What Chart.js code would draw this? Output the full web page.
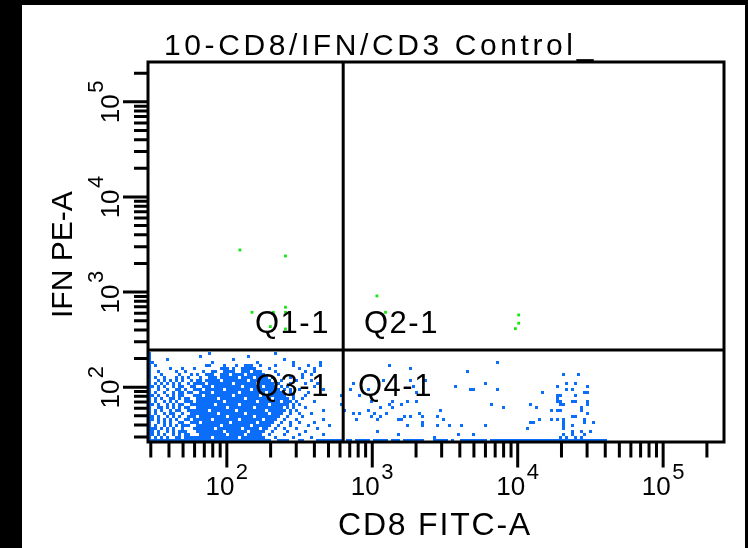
<!DOCTYPE html>
<html>
<head>
<meta charset="utf-8">
<script src="https://cdn.jsdelivr.net/npm/chart.js@4/dist/chart.umd.min.js"></script>
<style>
  body { margin: 0; background: #fff; }
  canvas { display: block; }
</style>
</head>
<body>
<canvas id="plot" width="748" height="548"></canvas>
<script>
// Axis ranges (log, FACS style 0..262144)
const X_MIN = 28.7, X_MAX = 262144;
const Y_MIN = 26.5, Y_MAX = 262144;

// Quadrant gate
const GATE_X = 631;
const GATE_Y = 246;
const QUAD_LABELS = ['Q1-1', 'Q2-1', 'Q3-1', 'Q4-1'];

// Tick values
const MAJOR_TICKS = [100, 1000, 10000, 100000];
const TICK_EXPONENTS = ['2', '3', '4', '5'];
const MINOR_TICKS = [30, 40, 50, 60, 70, 80, 90,
    200, 300, 400, 500, 600, 700, 800, 900,
    2000, 3000, 4000, 5000, 6000, 7000, 8000, 9000,
    20000, 30000, 40000, 50000, 60000, 70000, 80000, 90000,
    200000];

// Low-IFN events, binned: log10 of first bin centre and bin width per axis,
// then one entry per y-bin (top to bottom) listing the occupied x-bins
const BIN_X0 = 1.4682, BIN_XSTEP = 0.020629;
const BIN_Y0 = 2.3537, BIN_YSTEP = -0.031543;
const CD8_LOW_ROWS = [
    "0 20 42",
    "0 17 33",
    "0 6 28 45",
    "0-1 21 36 48 57 116",
    "0 2 19-20 25 29 32-34 37 42 48 53 57 80",
    "0 7 11 15 24-26 28 31-35 40 50 55 87",
    "0 3 9 12 18 21-22 25-28 31-33 35-37 42 52 55 106",
    "0 4 10 14 16 19-21 24-26 28-31 33-38 43 51 54 138 143",
    "0 2 5 9 11 13 17 20-22 24-29 31-34 36-39 41 47 51",
    "0 3 5 7 9 11 14 16-17 19-23 25-32 34-40 44 49 54 78 87 92",
    "0 2 4 6 8 10 13 15-18 20-27 29-35 37-41 43 47 52 56 68 112 139 142",
    "0-1 3 5 8 10-11 14-15 18-20 22-30 32-37 39-42 44 46 55 88 102 136 146",
    "0 3 6 9-10 12 15-17 19-24 26-33 35-43 45 47 50 58 67 73 82 107-108 116 139 141",
    "0 2 5 8 10-11 13-14 17-20 22-29 31-38 40-44 47 53 89 131 145-146",
    "0-1 3 6 8 10-11 15-17 19-27 29-36 38-45 48 52 64 70 136-137 142",
    "0 2 4 7-8 10 12-13 16-22 24-31 33-40 42-46 48 51 136",
    "0 2 5 7 9 12-14 16-24 26-35 37-43 45-47 49 55 74 81 86 89 136-137 141-142 146",
    "0-1 3 6 8 10-11 14-21 23-29 31-39 41-46 48 50 64 80 84 114 127 137-138 146",
    "0 3-4 6 8 10 12-13 16-25 27-34 36-44 46 48 52 77 81 118 129 144",
    "0 2 4 7 9-10 13-19 21-28 30-38 40-45 47 49 58 65 73 97 134 136-137 144",
    "0 2 5 7-8 11 14-22 24-31 33-39 41-44 47 50 54 68 70 75 79 90 146",
    "0-1 3 6 8 10 13-15 17-25 27-34 36-43 46 51 74 77 85 87 91 96 141-142",
    "0-1 3 5 7 9 12-13 15-20 22-29 31-37 39-42 45 49 58 69 76 83-84 98 130 134 136 138 145",
    "0 3 5 7 10-11 14-16 18-26 28-35 37-41 44 47 50 55 91 127-128 138 145 148",
    "0 2 5 7 9 11-13 16-23 25-33 35-40 43 47 53 60 86 91 96 100 104 112 138 141",
    "0-2 4 6 8 11 15-21 23-30 32-36 38-39 42 45 49 56 126 138",
    "0-1 3 6 8 10-12 16-24 26-32 34-38 41 46 52 76 141 144 147",
    "0-1 3 5 8 10 12-13 17-25 27-31 33-37 40 45 50 58 83 103 108 138 141 145",
    "0 2 4 6 9-10 12-20 22-29 31-38 42 48 54 95 137 139 142 144",
    "0-40 43-46 50-51 56-64 66-67 69-73 75-79 81-83 85-91 95-99 101 104-112 114-152"
];

// IFN-high events [CD8 FITC-A, IFN PE-A]
const IFN_HIGH = [
    [123, 2767], [253, 2393], [253, 692], [149, 612], [209, 612],
    [253, 612], [199, 433], [253, 409], [1076, 910], [1234, 612],
    [10160, 574], [10160, 470], [9640, 412]
];

const FONT = "'Liberation Sans', Arial, sans-serif";

function decodeRows(rows) {
    const pts = [];
    rows.forEach((row, r) => {
        const yv = Math.pow(10, BIN_Y0 + r * BIN_YSTEP);
        row.split(' ').forEach(tok => {
            const [a, b] = tok.split('-').map(Number);
            const end = b === undefined ? a : b;
            for (let c = a; c <= end; c++) {
                pts.push({x: Math.pow(10, BIN_X0 + c * BIN_XSTEP), y: yv});
            }
        });
    });
    return pts;
}

function drawPow(ctx, ax, base, exp) {
    // "10" with superscript, anchored on the tick
    ctx.font = '26px ' + FONT;
    ctx.textAlign = 'right';
    ctx.fillText('10', ax + 7.5, base);
    ctx.font = '22px ' + FONT;
    ctx.textAlign = 'left';
    ctx.fillText(exp, ax + 9, base - 16);
}

const facsFrame = {
    id: 'facsFrame',
    beforeDraw(chart) {
        const ctx = chart.ctx;
        ctx.save();
        ctx.fillStyle = '#fff';
        ctx.fillRect(0, 0, chart.width, chart.height);
        ctx.fillStyle = '#000';
        ctx.fillRect(0, 0, 22, chart.height);
        ctx.fillRect(0, 0, chart.width, 5);
        ctx.fillRect(chart.width - 3, 0, 3, chart.height);
        ctx.restore();
    },
    afterDatasetsDraw(chart) {
        const {ctx, chartArea: a} = chart;
        const xs = chart.scales.x, ys = chart.scales.y;
        ctx.save();
        ctx.strokeStyle = '#000';
        ctx.fillStyle = '#000';
        ctx.lineWidth = 3;

        // quadrant gate
        const gx = xs.getPixelForValue(GATE_X);
        const gy = ys.getPixelForValue(GATE_Y);
        ctx.beginPath();
        ctx.moveTo(gx, a.top); ctx.lineTo(gx, a.bottom);
        ctx.moveTo(a.left, gy); ctx.lineTo(a.right, gy);
        ctx.stroke();

        // plot frame
        ctx.strokeRect(a.left, a.top, a.right - a.left, a.bottom - a.top);

        // ticks
        ctx.beginPath();
        MINOR_TICKS.forEach(v => {
            const px = xs.getPixelForValue(v);
            if (px <= a.right) { ctx.moveTo(px, a.bottom); ctx.lineTo(px, a.bottom + 15.5); }
            const py = ys.getPixelForValue(v);
            if (py >= a.top) { ctx.moveTo(a.left, py); ctx.lineTo(a.left - 14, py); }
        });
        MAJOR_TICKS.forEach(v => {
            const px = xs.getPixelForValue(v);
            ctx.moveTo(px, a.bottom); ctx.lineTo(px, a.bottom + 25.5);
            const py = ys.getPixelForValue(v);
            ctx.moveTo(a.left, py); ctx.lineTo(a.left - 25, py);
        });
        ctx.stroke();

        // tick labels
        ctx.textBaseline = 'alphabetic';
        MAJOR_TICKS.forEach((v, i) => {
            drawPow(ctx, xs.getPixelForValue(v), a.bottom + 53, TICK_EXPONENTS[i]);
            ctx.save();
            ctx.translate(a.left - 29, ys.getPixelForValue(v));
            ctx.rotate(-Math.PI / 2);
            drawPow(ctx, 0, 0, TICK_EXPONENTS[i]);
            ctx.restore();
        });

        // title + axis titles
        ctx.textAlign = 'left';
        ctx.font = '30px ' + FONT;
        ctx.letterSpacing = '3.6px';
        ctx.fillText('10-CD8/IFN/CD3 Control_', 164, 55);
        ctx.font = '32px ' + FONT;
        ctx.letterSpacing = '1.8px';
        ctx.fillText('CD8 FITC-A', 338, 535);
        ctx.save();
        ctx.translate(72, 318);
        ctx.rotate(-Math.PI / 2);
        ctx.font = '30px ' + FONT;
        ctx.letterSpacing = '0px';
        ctx.fillText('IFN PE-A', 0, 0);
        ctx.restore();

        // quadrant labels
        ctx.font = '31px ' + FONT;
        ctx.letterSpacing = '1.5px';
        ctx.fillText(QUAD_LABELS[0], 255, 333);
        ctx.fillText(QUAD_LABELS[1], 364, 333);
        ctx.fillText(QUAD_LABELS[2], 255, 396);
        ctx.fillText(QUAD_LABELS[3], 358, 396);
        ctx.restore();
    }
};

new Chart(document.getElementById('plot'), {
    type: 'scatter',
    data: {
        datasets: [
            {
                label: 'IFN+',
                data: IFN_HIGH.map(p => ({x: p[0], y: p[1]})),
                pointStyle: 'rect',
                pointRadius: 2,
                borderWidth: 0,
                backgroundColor: '#14e614'
            },
            {
                label: 'IFN-',
                data: decodeRows(CD8_LOW_ROWS),
                pointStyle: 'rect',
                pointRadius: 2.13,
                borderWidth: 0,
                backgroundColor: '#0a6efa'
            }
        ]
    },
    options: {
        responsive: false,
        animation: false,
        devicePixelRatio: 1,
        events: [],
        layout: { padding: { left: 148, top: 62, right: 24, bottom: 106 } },
        plugins: {
            legend: { display: false },
            tooltip: { enabled: false },
            title: { display: false }
        },
        scales: {
            x: { type: 'logarithmic', min: X_MIN, max: X_MAX, display: false },
            y: { type: 'logarithmic', min: Y_MIN, max: Y_MAX, display: false }
        }
    },
    plugins: [facsFrame]
});
</script>
</body>
</html>
